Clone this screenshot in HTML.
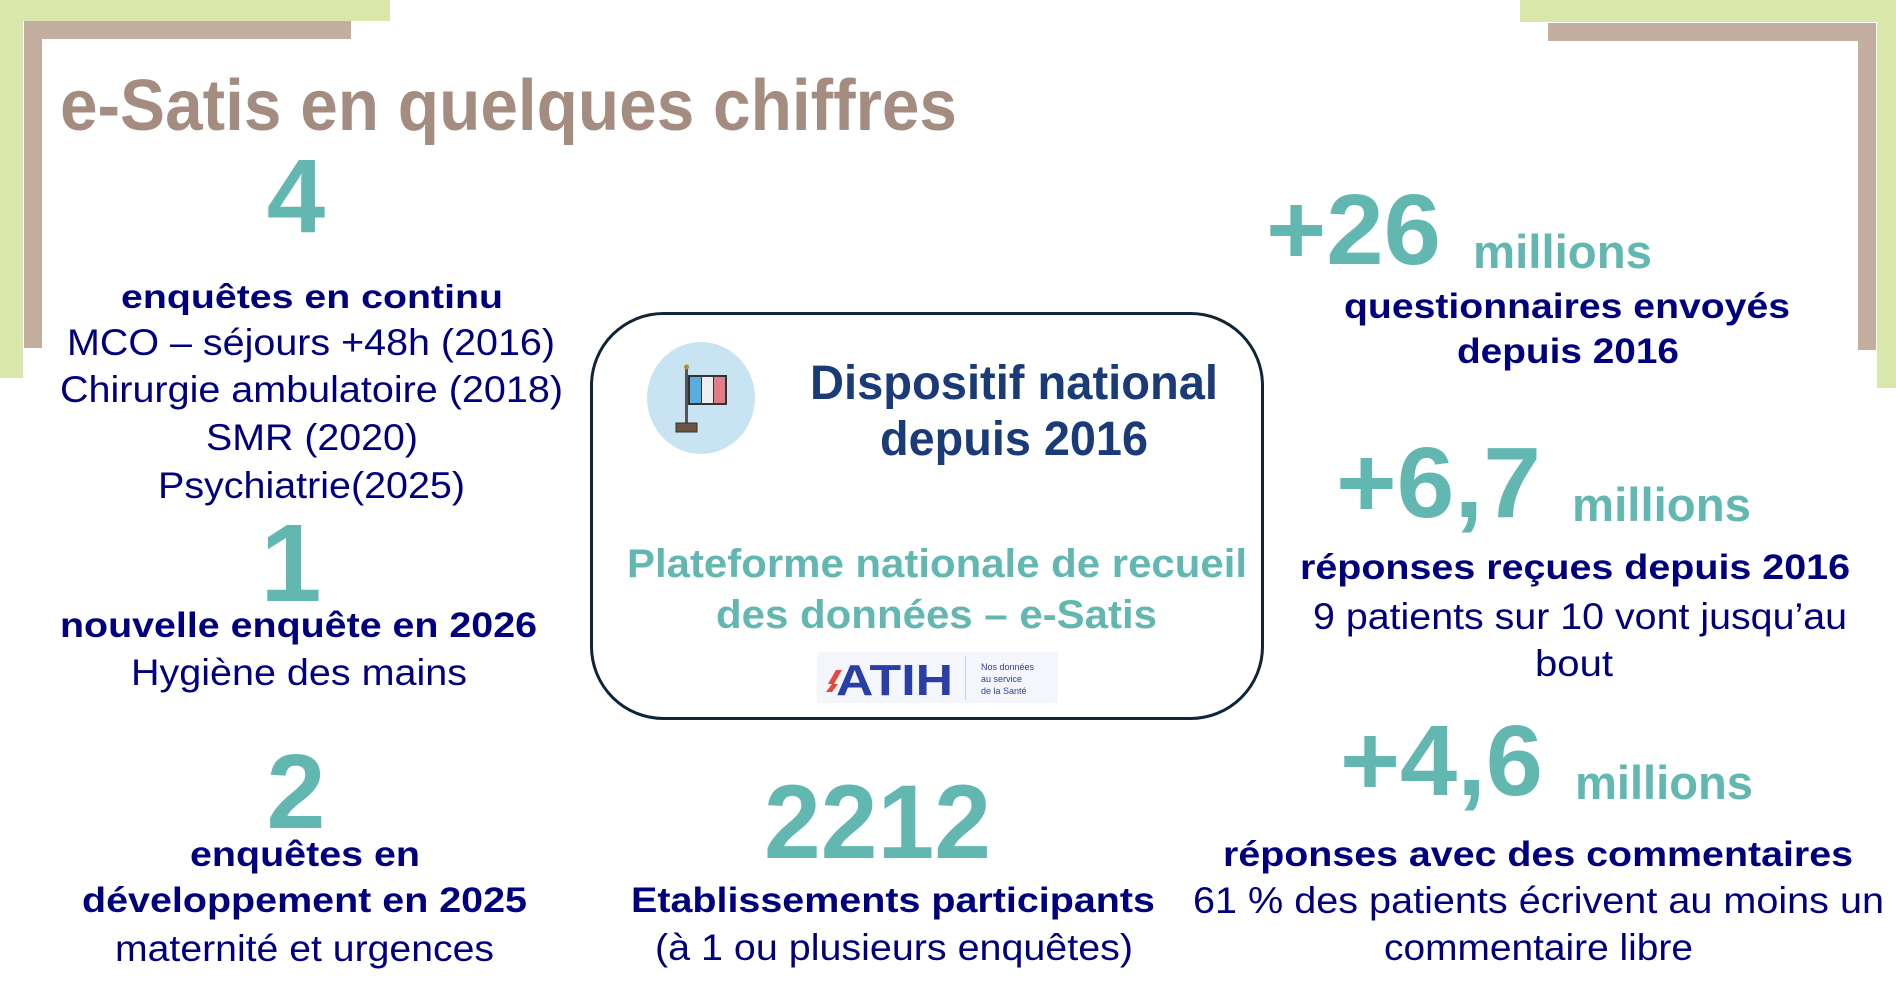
<!DOCTYPE html>
<html><head><meta charset="utf-8"><style>
html,body{margin:0;padding:0;background:#fff;}
svg{display:block;}
text{font-family:"Liberation Sans",Arial,sans-serif;}
.b{font-weight:bold;}
.n{fill:#00007f;}
.t{fill:#62b8b1;}
.d{fill:#1b3a78;}
</style></head><body>
<svg width="1896" height="998" viewBox="0 0 1896 998" xmlns="http://www.w3.org/2000/svg">
<!-- decorations -->
<rect x="0" y="0" width="390" height="21" fill="#d9e7ab"/>
<rect x="0" y="0" width="23" height="378" fill="#d9e7ab"/>
<rect x="24" y="21" width="327" height="18" fill="#c3aea0"/>
<rect x="24" y="21" width="18" height="327" fill="#c3aea0"/>
<rect x="1520" y="0" width="376" height="22" fill="#d9e7ab"/>
<rect x="1877" y="0" width="19" height="388" fill="#d9e7ab"/>
<rect x="1548" y="23" width="328" height="18" fill="#c3aea0"/>
<rect x="1858" y="23" width="18" height="327" fill="#c3aea0"/>

<text x="60" y="130" font-size="72" class="b" fill="#a48c80" textLength="897" lengthAdjust="spacingAndGlyphs">e-Satis en quelques chiffres</text>

<!-- left column -->
<text x="296" y="232" font-size="105" class="b t" text-anchor="middle">4</text>
<text x="121" y="308" font-size="33" class="b n" textLength="382" lengthAdjust="spacingAndGlyphs">enquêtes en continu</text>
<text x="67" y="355" font-size="37" class="n" textLength="488" lengthAdjust="spacingAndGlyphs">MCO – séjours +48h (2016)</text>
<text x="60" y="402" font-size="37" class="n" textLength="503" lengthAdjust="spacingAndGlyphs">Chirurgie ambulatoire (2018)</text>
<text x="206" y="450" font-size="37" class="n" textLength="212" lengthAdjust="spacingAndGlyphs">SMR (2020)</text>
<text x="158" y="498" font-size="37" class="n" textLength="307" lengthAdjust="spacingAndGlyphs">Psychiatrie(2025)</text>
<text x="291" y="601" font-size="110" class="b t" text-anchor="middle">1</text>
<text x="60" y="637" font-size="35" class="b n" textLength="477" lengthAdjust="spacingAndGlyphs">nouvelle enquête en 2026</text>
<text x="131" y="685" font-size="37" class="n" textLength="336" lengthAdjust="spacingAndGlyphs">Hygiène des mains</text>
<text x="296" y="828" font-size="106" class="b t" text-anchor="middle">2</text>
<text x="190" y="866" font-size="35" class="b n" textLength="230" lengthAdjust="spacingAndGlyphs">enquêtes en</text>
<text x="82" y="912" font-size="35" class="b n" textLength="445" lengthAdjust="spacingAndGlyphs">développement en 2025</text>
<text x="115" y="961" font-size="37" class="n" textLength="379" lengthAdjust="spacingAndGlyphs">maternité et urgences</text>

<!-- center box -->
<rect x="591.5" y="313.5" width="671" height="405" rx="72" ry="72" fill="#fff" stroke="#0f2538" stroke-width="3"/>
<ellipse cx="701" cy="398" rx="54" ry="56" fill="#c8e3f1"/>
<rect x="685" y="367" width="3" height="60" fill="#555"/>
<circle cx="686.5" cy="367" r="2.5" fill="#b8892f"/>
<rect x="688" y="375" width="39" height="30" fill="#333"/>
<rect x="690" y="377" width="11" height="26" fill="#5aaedf"/>
<rect x="702" y="377" width="11" height="26" fill="#eeeeee"/>
<rect x="714" y="377" width="11" height="26" fill="#e57b86"/>
<rect x="676" y="423" width="21" height="9" fill="#6b5444" stroke="#333" stroke-width="1"/>
<text x="810" y="399" font-size="48" class="b d" textLength="408" lengthAdjust="spacingAndGlyphs">Dispositif national</text>
<text x="880" y="455" font-size="48" class="b d" textLength="268" lengthAdjust="spacingAndGlyphs">depuis 2016</text>
<text x="627" y="577" font-size="40" class="b t" textLength="620" lengthAdjust="spacingAndGlyphs">Plateforme nationale de recueil</text>
<text x="716" y="628" font-size="40" class="b t" textLength="441" lengthAdjust="spacingAndGlyphs">des données – e-Satis</text>
<rect x="817" y="652" width="241" height="51" fill="#f4f6fb"/>
<polygon points="828,684 836,670 842,670 834,684" fill="#e8473f"/>
<polygon points="826,692 832,684 838,684 832,692" fill="#e8473f"/>
<text x="836" y="695" font-size="44" class="b" fill="#2a3ea8" textLength="117" lengthAdjust="spacingAndGlyphs">ATIH</text>
<rect x="965" y="656" width="1" height="44" fill="#c8cde0"/>
<text x="981" y="670" font-size="9" fill="#2a3ea8">Nos données</text>
<text x="981" y="682" font-size="9" fill="#2a3ea8">au service</text>
<text x="981" y="694" font-size="9" fill="#2a3ea8">de la Santé</text>

<!-- center bottom -->
<text x="764" y="858" font-size="105" class="b t" textLength="227" lengthAdjust="spacingAndGlyphs">2212</text>
<text x="631" y="912" font-size="35" class="b n" textLength="524" lengthAdjust="spacingAndGlyphs">Etablissements participants</text>
<text x="655" y="960" font-size="37" class="n" textLength="478" lengthAdjust="spacingAndGlyphs">(à 1 ou plusieurs enquêtes)</text>

<!-- right column -->
<text x="1266" y="264" font-size="100" class="b t" textLength="175" lengthAdjust="spacingAndGlyphs">+26</text>
<text x="1473" y="268" font-size="47" class="b t" textLength="179" lengthAdjust="spacingAndGlyphs">millions</text>
<text x="1344" y="318" font-size="35" class="b n" textLength="446" lengthAdjust="spacingAndGlyphs">questionnaires envoyés</text>
<text x="1457" y="363" font-size="35" class="b n" textLength="222" lengthAdjust="spacingAndGlyphs">depuis 2016</text>

<text x="1336" y="517" font-size="100" class="b t" textLength="205" lengthAdjust="spacingAndGlyphs">+6,7</text>
<text x="1572" y="521" font-size="47" class="b t" textLength="179" lengthAdjust="spacingAndGlyphs">millions</text>
<text x="1300" y="579" font-size="35" class="b n" textLength="550" lengthAdjust="spacingAndGlyphs">réponses reçues depuis 2016</text>
<text x="1313" y="629" font-size="37" class="n" textLength="534" lengthAdjust="spacingAndGlyphs">9 patients sur 10 vont jusqu’au</text>
<text x="1535" y="676" font-size="37" class="n" textLength="78" lengthAdjust="spacingAndGlyphs">bout</text>

<text x="1340" y="795" font-size="100" class="b t" textLength="203" lengthAdjust="spacingAndGlyphs">+4,6</text>
<text x="1575" y="799" font-size="47" class="b t" textLength="178" lengthAdjust="spacingAndGlyphs">millions</text>
<text x="1223" y="866" font-size="35" class="b n" textLength="630" lengthAdjust="spacingAndGlyphs">réponses avec des commentaires</text>
<text x="1193" y="913" font-size="37" class="n" textLength="691" lengthAdjust="spacingAndGlyphs">61 % des patients écrivent au moins un</text>
<text x="1384" y="960" font-size="37" class="n" textLength="309" lengthAdjust="spacingAndGlyphs">commentaire libre</text>
</svg>
</body></html>
